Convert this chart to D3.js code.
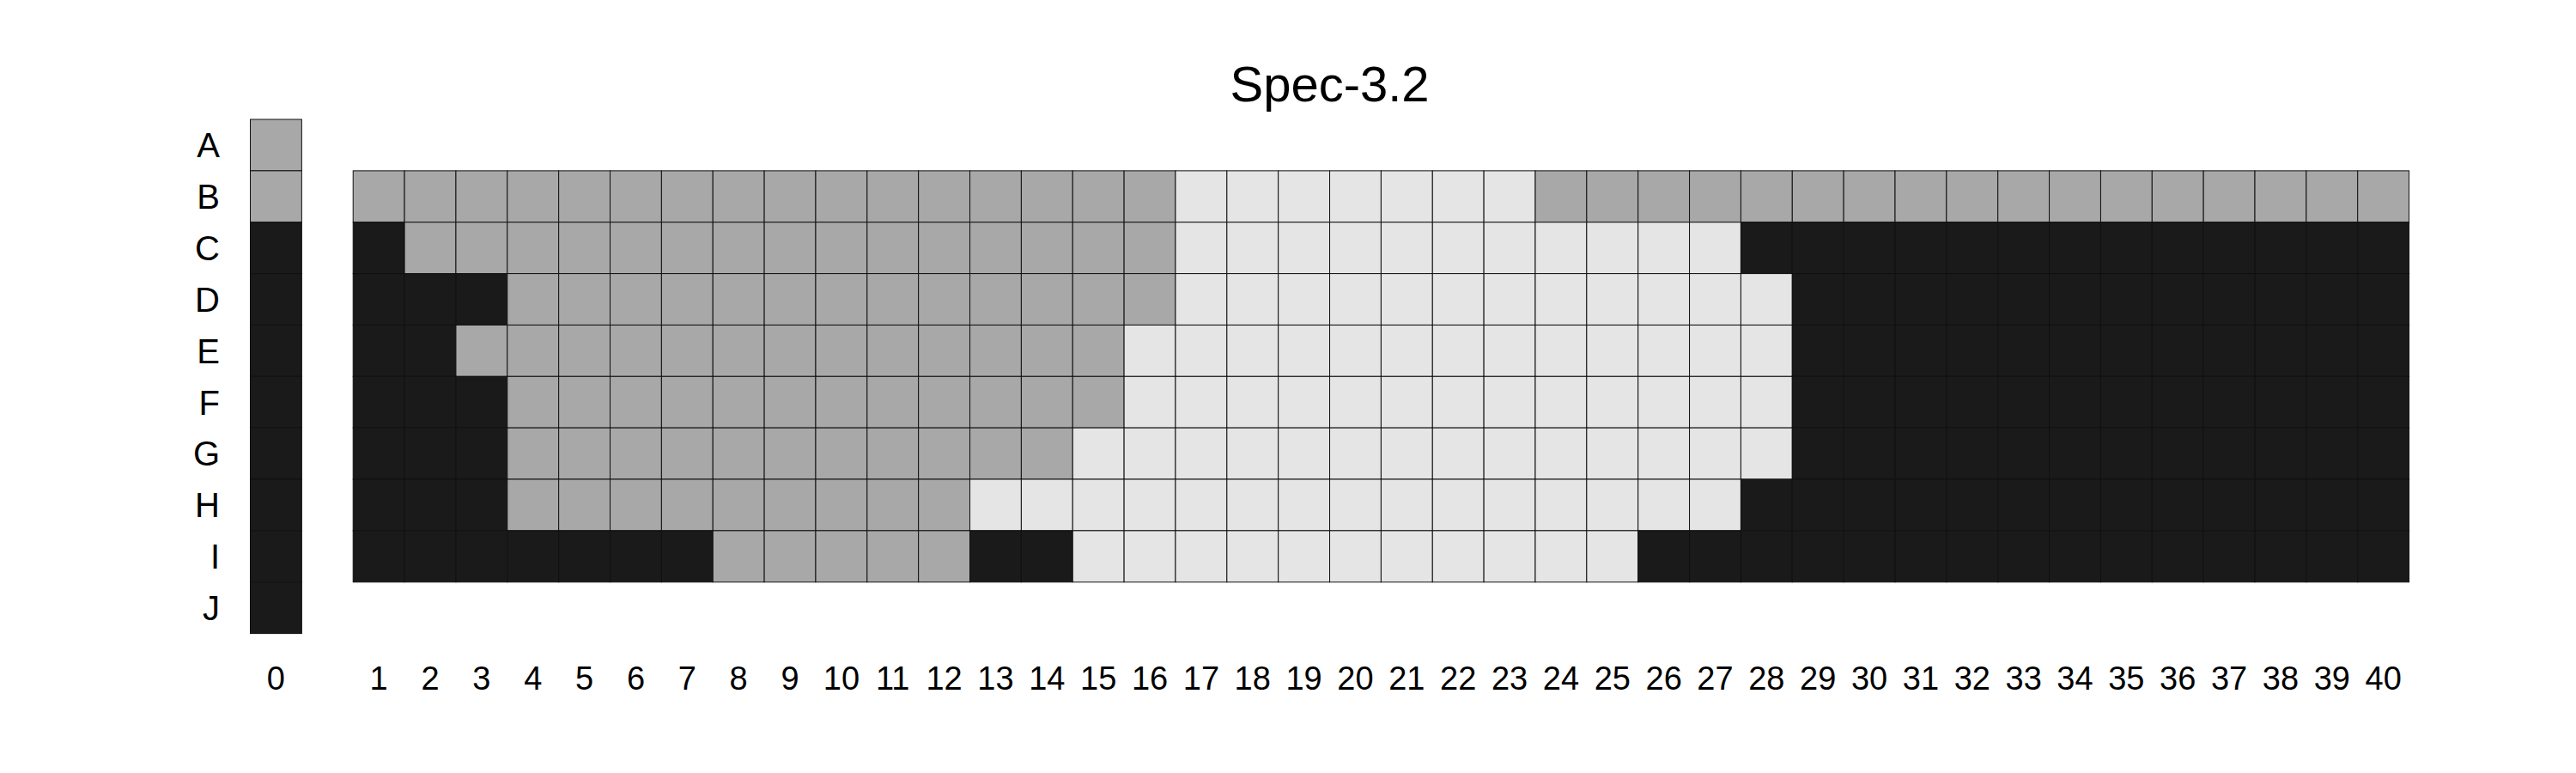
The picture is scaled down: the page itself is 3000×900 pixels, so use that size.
<!DOCTYPE html>
<html>
<head>
<meta charset="utf-8">
<script src="https://cdn.jsdelivr.net/npm/d3@7"></script>
<style>
  html, body { margin: 0; padding: 0; background: #ffffff; }
  svg { display: block; }
  text { font-family: "Liberation Sans", Arial, Helvetica, sans-serif; fill: #000; }
</style>
</head>
<body>
<svg id="chart" width="3000" height="900"></svg>
<script>
// ---- data ----
const title = "Spec-3.2";
const rowLabels = ["A", "B", "C", "D", "E", "F", "G", "H", "I", "J"];
const colLabels = ["0","1","2","3","4","5","6","7","8","9","10","11","12","13","14","15","16","17","18","19","20",
                   "21","22","23","24","25","26","27","28","29","30","31","32","33","34","35","36","37","38","39","40"];
// category codes: D = dark, M = mid grey, L = light grey
const categories = ["D", "M", "L"];
const categoryColors = ["#1a1a1a", "#a8a8a8", "#e5e5e5"];
// column 0, rows A..J
const column0 = ["M", "M", "D", "D", "D", "D", "D", "D", "D", "D"];
// columns 1..40, rows B..I
const mainRows = ["B", "C", "D", "E", "F", "G", "H", "I"];
const rowB = "MMMMMMMMMMMMMMMM" + "LLLLLLL" + "MMMMMMMMMMMMMMMMM";
const rowC = "D" + "MMMMMMMMMMMMMMM" + "LLLLLLLLLLL" + "DDDDDDDDDDDDD";
const rowD = "DDD" + "MMMMMMMMMMMMM" + "LLLLLLLLLLLL" + "DDDDDDDDDDDD";
const rowE = "DD" + "MMMMMMMMMMMMM" + "LLLLLLLLLLLLL" + "DDDDDDDDDDDD";
const rowF = "DDD" + "MMMMMMMMMMMM" + "LLLLLLLLLLLLL" + "DDDDDDDDDDDD";
const rowG = "DDD" + "MMMMMMMMMMM" + "LLLLLLLLLLLLLL" + "DDDDDDDDDDDD";
const rowH = "DDD" + "MMMMMMMMM" + "LLLLLLLLLLLLLLL" + "DDDDDDDDDDDDD";
const rowI = "DDDDDDD" + "MMMMM" + "DD" + "LLLLLLLLLLL" + "DDDDDDDDDDDDDDD";
const mainValues = [rowB, rowC, rowD, rowE, rowF, rowG, rowH, rowI];

// ---- build cells ----
const cells = [];
column0.forEach((v, i) => cells.push({ row: rowLabels[i], col: "0", value: v }));
mainValues.forEach((str, ri) => {
  str.split("").forEach((v, ci) => cells.push({ row: mainRows[ri], col: colLabels[ci + 1], value: v }));
});

// ---- scales ----
const xDomain = ["0", "gap"].concat(colLabels.slice(1));
const x = d3.scaleBand().domain(xDomain).range([291.5, 2805.6]).padding(0);
const y = d3.scaleBand().domain(rowLabels).range([139, 737.6]).padding(0);
const color = d3.scaleOrdinal().domain(categories).range(categoryColors);

const svg = d3.select("#chart");

// title
svg.append("text")
  .attr("x", (x.range()[0] + x.range()[1]) / 2)
  .attr("y", 118)
  .attr("text-anchor", "middle")
  .style("font-size", "58px")
  .text(title);

// cells
svg.append("g").selectAll("rect")
  .data(cells)
  .join("rect")
  .attr("x", d => x(d.col))
  .attr("y", d => y(d.row))
  .attr("width", x.bandwidth())
  .attr("height", y.bandwidth())
  .attr("fill", d => color(d.value))
  .attr("stroke", "#111")
  .attr("stroke-width", 1);

// row labels (left axis, no line/ticks)
const yAxis = d3.axisLeft(y).tickSize(0).tickPadding(0);
const gy = svg.append("g").attr("transform", "translate(256,0)").call(yAxis);
gy.select(".domain").remove();
gy.selectAll("text")
  .attr("x", 0)
  .attr("dy", "0.36em")
  .style("font-size", "40px")
  .style("font-family", "'Liberation Sans', Arial, sans-serif")
  .attr("fill", "#000");

// column labels (bottom axis, no line/ticks)
const xAxis = d3.axisBottom(x).tickValues(colLabels).tickSize(0).tickPadding(0);
const gx = svg.append("g").attr("transform", "translate(0,803)").call(xAxis);
gx.select(".domain").remove();
gx.selectAll("text")
  .attr("y", 0)
  .attr("dy", "0")
  .style("font-size", "38px")
  .style("font-family", "'Liberation Sans', Arial, sans-serif")
  .attr("fill", "#000");
</script>
</body>
</html>
